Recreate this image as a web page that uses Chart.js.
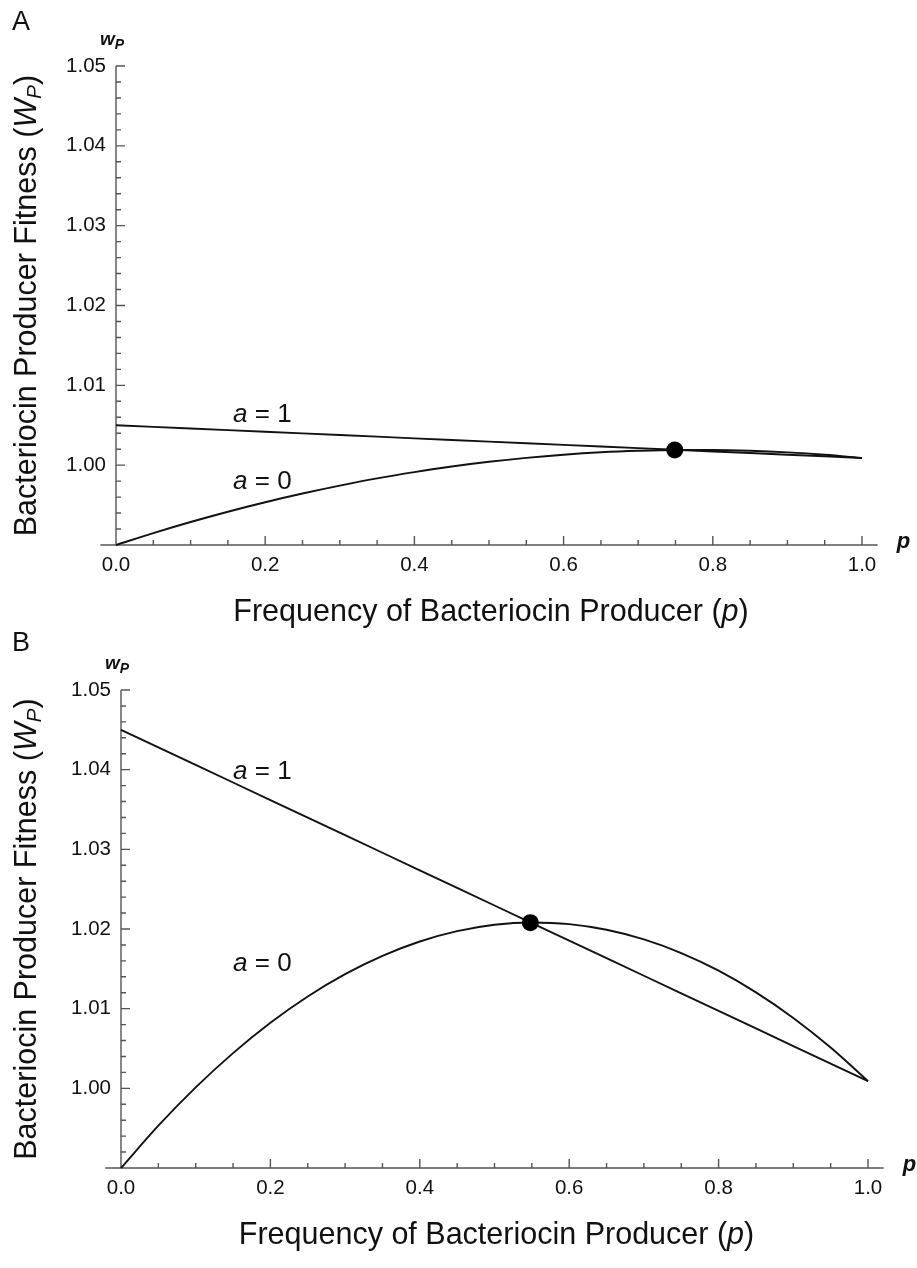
<!DOCTYPE html>
<html>
<head>
<meta charset="utf-8">
<title>Bacteriocin producer fitness</title>
<script src="https://cdn.jsdelivr.net/npm/chart.js@4.4.1/dist/chart.umd.min.js"></script>
<style>
  html, body { margin: 0; padding: 0; background: #fff; }
  #wrap { position: relative; width: 917px; height: 1268px; }
  canvas { position: absolute; left: 0; }
  #chA { top: 0; }
  #chB { top: 630px; }
</style>
</head>
<body>
<div id="wrap">
  <canvas id="chA" width="917" height="630"></canvas>
  <canvas id="chB" width="917" height="638"></canvas>
</div>
<script>
console.log("Top of JS");

// frequency of the bacteriocin producer, p
var pValues = [0, 0.05, 0.1, 0.15, 0.2, 0.25, 0.3, 0.35, 0.4, 0.45, 0.5,
               0.55, 0.6, 0.65, 0.7, 0.75, 0.8, 0.85, 0.9, 0.95, 1.0];

// panel A: producer fitness w_P
var fitA1 = [1.00500, 1.00480, 1.00459, 1.00439, 1.00418, 1.00398, 1.00377, 1.00357, 1.00336, 1.00316, 1.00295,
             1.00275, 1.00254, 1.00234, 1.00213, 1.00193, 1.00172, 1.00152, 1.00131, 1.00111, 1.00090];
var fitA0 = [0.99000, 0.99149, 0.99288, 0.99417, 0.99536, 0.99645, 0.99744, 0.99834, 0.99913, 0.99983, 1.00042,
             1.00091, 1.00131, 1.00161, 1.00180, 1.00190, 1.00190, 1.00180, 1.00160, 1.00130, 1.00090];
var eqA = [0.749, 1.0019];

// panel B
var fitB1 = [1.04500, 1.04280, 1.04059, 1.03839, 1.03618, 1.03398, 1.03177, 1.02957, 1.02736, 1.02516, 1.02295,
             1.02075, 1.01854, 1.01634, 1.01413, 1.01193, 1.00972, 1.00752, 1.00531, 1.00311, 1.00090];
var fitB0 = [0.99000, 0.99531, 1.00012, 1.00442, 1.00823, 1.01153, 1.01433, 1.01663, 1.01843, 1.01973, 1.02053,
             1.02082, 1.02061, 1.01990, 1.01869, 1.01698, 1.01477, 1.01205, 1.00884, 1.00512, 1.00090];
var eqB = [0.548, 1.0208];

// tick labels
var xTickLabels = ["0.0", "0.2", "0.4", "0.6", "0.8", "1.0"];
var yTickLabels = ["1.00", "1.01", "1.02", "1.03", "1.04", "1.05"];

var FF = '"Liberation Sans", Arial, Helvetica, sans-serif';
Chart.defaults.font.family = FF;

// draw a row of text pieces with different fonts; r = [text, font, dy]
function drawRuns(ctx, runs, x, y, center) {
  var total = 0;
  runs.forEach(function (r) { ctx.font = r[1]; total += ctx.measureText(r[0]).width; });
  var cx = center ? x - total / 2 : x;
  runs.forEach(function (r) {
    ctx.font = r[1];
    ctx.fillText(r[0], cx, y + (r[2] || 0));
    cx += ctx.measureText(r[0]).width;
  });
}

// Mathematica style axes: ticks point inward, x axis runs a bit past the ends
function axesPlugin(panel) {
  return {
    id: "mathAxes",
    beforeDatasetsDraw: function (chart) {
      var ctx = chart.ctx, xs = chart.scales.x, ys = chart.scales.y;
      var x0 = xs.getPixelForValue(0), yb = ys.getPixelForValue(0.99);
      ctx.save();
      ctx.strokeStyle = "#555";
      ctx.lineWidth = 1.4;
      ctx.beginPath();
      ctx.moveTo(xs.getPixelForValue(-0.021), yb);
      ctx.lineTo(xs.getPixelForValue(1.021), yb);
      ctx.moveTo(x0, yb);
      ctx.lineTo(x0, ys.getPixelForValue(1.05));
      for (var k = 1; k <= 20; k++) {
        var px = xs.getPixelForValue(k * 0.05);
        ctx.moveTo(px, yb);
        ctx.lineTo(px, yb - (k % 4 === 0 ? 9 : 5));
      }
      for (var j = 1; j <= 30; j++) {
        var py = ys.getPixelForValue(0.99 + j * 0.002);
        ctx.moveTo(x0, py);
        ctx.lineTo(x0 + (j % 5 === 0 ? 9 : 5), py);
      }
      ctx.stroke();
      ctx.restore();
    },
    afterDatasetsDraw: function (chart) {
      var ctx = chart.ctx, xs = chart.scales.x, ys = chart.scales.y, ca = chart.chartArea;
      var x0 = xs.getPixelForValue(0), yb = ys.getPixelForValue(0.99);
      ctx.save();
      ctx.fillStyle = "#111";
      ctx.textAlign = "left";
      ctx.textBaseline = "alphabetic";

      // panel letter
      ctx.font = "27px " + FF;
      ctx.fillText(panel.letter, 12, panel.letterY);

      // axis labels at the axis ends
      drawRuns(ctx, [["w", "bold italic 19px " + FF], ["P", "bold italic 14px " + FF, 4]],
               x0 - 16, ys.getPixelForValue(1.05) - 21, false);
      drawRuns(ctx, [["p", "bold italic 22px " + FF]], xs.getPixelForValue(1.021) + 19, yb + 3, false);

      // x title
      drawRuns(ctx, [["Frequency of Bacteriocin Producer (", "30.5px " + FF],
                     ["p", "italic 30.5px " + FF], [")", "30.5px " + FF]],
               (ca.left + ca.right) / 2 + 2, yb + 76, true);

      // y title
      ctx.save();
      ctx.translate(36, (ca.top + ca.bottom) / 2);
      ctx.rotate(-Math.PI / 2);
      drawRuns(ctx, [["Bacteriocin Producer Fitness (", "30.5px " + FF],
                     ["W", "italic 30.5px " + FF], ["P", "italic 21px " + FF, 5],
                     [")", "30.5px " + FF]], 0, 0, true);
      ctx.restore();

      // curve labels
      panel.notes.forEach(function (n) {
        drawRuns(ctx, [["a", "italic 26px " + FF], [" = " + n.text, "26px " + FF]],
                 xs.getPixelForValue(n.p), ys.getPixelForValue(n.w), false);
      });
      ctx.restore();
    }
  };
}

function makePanel(id, panel) {
  var el = document.getElementById(id);
  if (!el) return;
  new Chart(el, {
    type: "line",
    data: {
      datasets: [
        {
          type: "scatter",
          label: "equilibrium",
          data: [{ x: panel.eq[0], y: panel.eq[1] }],
          pointRadius: 8.5,
          pointBackgroundColor: "#000",
          pointBorderWidth: 0
        },
        {
          label: "a = 1",
          data: pValues.map(function (p, i) { return { x: p, y: panel.a1[i] }; }),
          borderColor: "#111",
          borderWidth: 1.9,
          pointRadius: 0,
          tension: 0,
          clip: false
        },
        {
          label: "a = 0",
          data: pValues.map(function (p, i) { return { x: p, y: panel.a0[i] }; }),
          borderColor: "#111",
          borderWidth: 1.9,
          pointRadius: 0,
          cubicInterpolationMode: "monotone",
          clip: false
        }
      ]
    },
    options: {
      responsive: false,
      animation: false,
      devicePixelRatio: 1,
      layout: { padding: { left: 0, right: panel.padRight, top: panel.padTop, bottom: 0 } },
      plugins: { legend: { display: false }, tooltip: { enabled: false } },
      scales: {
        x: {
          type: "linear",
          min: 0,
          max: 1,
          grid: { display: false, drawTicks: false },
          border: { display: false },
          afterBuildTicks: function (s) {
            s.ticks = xTickLabels.map(function (t) { return { value: parseFloat(t) }; });
          },
          afterFit: function (s) { s.height = panel.xHeight; },
          ticks: {
            autoSkip: false,
            maxRotation: 0,
            padding: 8,
            color: "#111",
            font: { size: 20.5 },
            callback: function (v, i) { return xTickLabels[i]; }
          }
        },
        y: {
          min: 0.99,
          max: 1.05,
          grid: { display: false, drawTicks: false },
          border: { display: false },
          afterBuildTicks: function (s) {
            s.ticks = yTickLabels.map(function (t) { return { value: parseFloat(t) }; });
          },
          afterFit: function (s) { s.width = panel.yWidth; },
          ticks: {
            autoSkip: false,
            padding: 10,
            color: "#111",
            font: { size: 20.5 },
            callback: function (v, i) { return yTickLabels[i]; }
          }
        }
      }
    },
    plugins: [axesPlugin(panel)]
  });
}

makePanel("chA", {
  letter: "A", letterY: 30,
  a1: fitA1, a0: fitA0, eq: eqA,
  padTop: 66, padRight: 55, xHeight: 85, yWidth: 116,
  notes: [{ p: 0.157, w: 1.00541, text: "1" }, { p: 0.157, w: 0.99701, text: "0" }]
});

makePanel("chB", {
  letter: "B", letterY: 21,
  a1: fitB1, a0: fitB0, eq: eqB,
  padTop: 60, padRight: 49, xHeight: 100, yWidth: 121,
  notes: [{ p: 0.150, w: 1.03881, text: "1" }, { p: 0.150, w: 1.01472, text: "0" }]
});
</script>
</body>
</html>
